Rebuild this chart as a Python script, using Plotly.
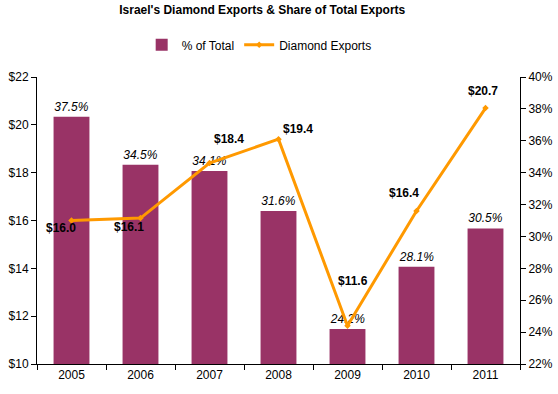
import plotly.graph_objects as go

years = ["2005", "2006", "2007", "2008", "2009", "2010", "2011"]
share_pct = [37.5, 34.5, 34.1, 31.6, 24.2, 28.1, 30.5]
exports_bn = [16.0, 16.1, 18.4, 19.4, 11.6, 16.4, 20.7]

# label offsets (pixels) for line data labels
label_dx = [-11, -12, 19, 19, 5, -13, -3]
label_dy = [-7, -9, 24, 10, 45, 18, 17]

FONT = "Liberation Sans, Arial, sans-serif"

fig = go.Figure()
fig.add_trace(go.Bar(
    x=years, y=share_pct, name="% of Total", yaxis="y",
    marker=dict(color="#993366", line=dict(width=0)),
    text=[f"{v:.1f}%" for v in share_pct], textposition="outside",
    textfont=dict(family=FONT, size=12, color="black", style="italic"),
    cliponaxis=False,
))
fig.add_trace(go.Scatter(
    x=years, y=exports_bn, name="Diamond Exports", yaxis="y2",
    mode="lines+markers",
    line=dict(color="#FF9900", width=3),
    marker=dict(color="#FF9900", symbol="diamond", size=5),
    cliponaxis=False,
))

# category axis: annotations use the category index
for i, (v, dx, dy) in enumerate(zip(exports_bn, label_dx, label_dy)):
    fig.add_annotation(x=i, y=v, xref="x", yref="y2", text=f"<b>${v:.1f}</b>",
                       showarrow=False, xshift=dx, yshift=dy,
                       font=dict(family=FONT, size=12, color="black"))

fig.update_layout(
    width=558, height=394,
    margin=dict(l=37, r=38, t=77, b=30, autoexpand=False),
    paper_bgcolor="white", plot_bgcolor="white",
    font=dict(family=FONT, size=12, color="black"),
    title=dict(text="<b>Israel's Diamond Exports & Share of Total Exports</b>",
               x=0.47, xanchor="center", y=0.985, yanchor="top",
               font=dict(family=FONT, size=12, color="black")),
    legend=dict(orientation="h", x=0.46, xanchor="center", y=1.112, yanchor="middle",
                font=dict(family=FONT, size=12), traceorder="normal",
                itemwidth=30),
    bargap=0.48,
    xaxis=dict(type="category", showline=True, linecolor="black", linewidth=1,
               ticks="outside", tickson="boundaries", ticklen=5, tickcolor="black",
               showgrid=False, tickfont=dict(size=12), range=[-0.5, 6.5],
               automargin=False),
    yaxis=dict(side="right", range=[22, 40], dtick=2, ticksuffix="%",
               showline=True, linecolor="black", linewidth=1, ticks="outside",
               ticklen=5, tickcolor="black", showgrid=False, zeroline=False,
               automargin=False),
    yaxis2=dict(side="left", overlaying="y", range=[10, 22], dtick=2, tickprefix="$",
                showline=True, linecolor="black", linewidth=1, ticks="outside",
                ticklen=5, tickcolor="black", showgrid=False, zeroline=False,
                automargin=False),
    showlegend=True,
)

fig.write_html("out.html", config={"displayModeBar": False},
               post_script="document.body.style.margin='0';document.body.style.overflow='hidden';")
